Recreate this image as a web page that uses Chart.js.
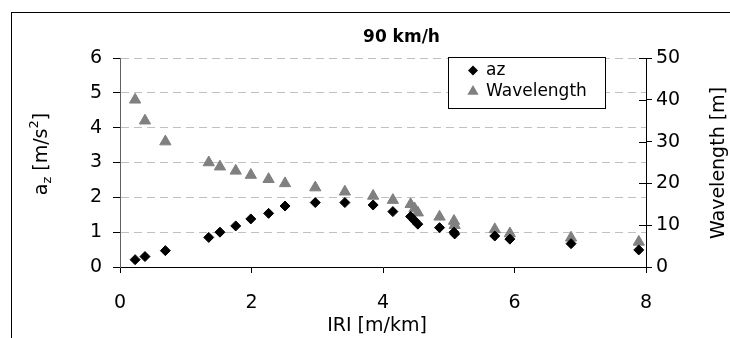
<!DOCTYPE html>
<html>
<head>
<meta charset="utf-8">
<script src="https://cdn.jsdelivr.net/npm/chart.js@4.4.1/dist/chart.umd.min.js"></script>
<style>
  html, body { margin: 0; padding: 0; background: #fff; }
  canvas { display: block; }
</style>
</head>
<body>
<canvas id="chart" width="730" height="338"></canvas>
<script>
// values
const iri = [0.23, 0.38, 0.69, 1.35, 1.52, 1.76, 1.99, 2.26, 2.51, 2.97, 3.42, 3.85,
    4.15, 4.42, 4.48, 4.53, 4.86, 5.08, 5.09, 5.70, 5.93, 6.86, 7.89];
const az = [0.21, 0.30, 0.47, 0.85, 1.00, 1.18, 1.38, 1.54, 1.75, 1.85, 1.85, 1.78,
    1.59, 1.45, 1.33, 1.23, 1.13, 1.00, 0.95, 0.89, 0.80, 0.67, 0.49];
const wavelength = [40, 35, 30, 25, 24, 23, 22, 21, 20, 19, 18, 17,
    16, 15, 14, 13, 12, 11, 10, 9, 8, 7, 6];
const seriesNames = ['az', 'Wavelength'];
const chartTitle = '90 km/h';
const xTitle = 'IRI [m/km]';
const y1Title = 'Wavelength [m]';

const FONT = '"DejaVu Sans", sans-serif';

function points(xs, ys) {
    return xs.map((x, i) => ({x: x, y: ys[i]}));
}

// draws a marker like the ones chart.js uses for rectRot / triangle
function marker(ctx, style, x, y, r) {
    ctx.beginPath();
    if (style === 'rectRot') {
        ctx.moveTo(x, y - r);
        ctx.lineTo(x + r, y);
        ctx.lineTo(x, y + r);
        ctx.lineTo(x - r, y);
    } else {
        ctx.moveTo(x, y - r);
        ctx.lineTo(x + r * Math.sin(Math.PI / 3), y + r / 2);
        ctx.lineTo(x - r * Math.sin(Math.PI / 3), y + r / 2);
    }
    ctx.closePath();
    ctx.fill();
}

// text pieces along one baseline, rotated -90deg, centered on (cx, cy)
function rotatedText(ctx, cx, cy, parts) {
    ctx.save();
    ctx.translate(cx, cy);
    ctx.rotate(-Math.PI / 2);
    ctx.textBaseline = 'alphabetic';
    ctx.textAlign = 'left';
    let total = 0;
    parts.forEach(p => {
        ctx.font = p.size + 'px ' + FONT;
        p.w = ctx.measureText(p.t).width;
        total += p.w;
    });
    let x = -total / 2;
    parts.forEach(p => {
        ctx.font = p.size + 'px ' + FONT;
        ctx.fillText(p.t, x, p.dy || 0);
        x += p.w;
    });
    ctx.restore();
}

const decor = {
    id: 'decor',
    beforeDraw(chart) {
        const ctx = chart.ctx;
        ctx.save();
        ctx.fillStyle = '#fff';
        ctx.fillRect(0, 0, chart.width, chart.height);
        ctx.strokeStyle = '#000';
        ctx.lineWidth = 1;
        ctx.strokeRect(11.5, 12.5, 900, 500);
        ctx.restore();
    },
    afterDraw(chart) {
        const ctx = chart.ctx;
        const area = chart.chartArea;
        const y1 = chart.scales.y1;
        ctx.save();

        // right axis ticks also cross into the plot
        ctx.strokeStyle = '#000';
        ctx.lineWidth = 1;
        y1.ticks.forEach(t => {
            const py = Math.round(y1.getPixelForValue(t.value)) + 0.5;
            ctx.beginPath();
            ctx.moveTo(area.right - 7, py);
            ctx.lineTo(area.right, py);
            ctx.stroke();
        });

        ctx.fillStyle = '#000';
        ctx.textAlign = 'center';
        ctx.textBaseline = 'alphabetic';
        ctx.font = 'bold 17px ' + FONT;
        ctx.fillText(chartTitle, 401.5, 41.5);

        ctx.font = '19px ' + FONT;
        ctx.fillText(xTitle, 377, 331);

        rotatedText(ctx, 47, 154, [
            {t: 'a', size: 19},
            {t: 'z', size: 13, dy: 4},
            {t: ' [m/s', size: 19},
            {t: '2', size: 13, dy: -9},
            {t: ']', size: 19},
        ]);
        rotatedText(ctx, 724, 163, [{t: y1Title, size: 19}]);

        // legend box
        ctx.fillStyle = '#fff';
        ctx.fillRect(448, 57, 157, 51);
        ctx.strokeStyle = '#000';
        ctx.strokeRect(448.5, 57.5, 157, 51);
        const ds = chart.data.datasets;
        const rows = [70.5, 91.5];
        ctx.font = '17px ' + FONT;
        ctx.textAlign = 'left';
        ctx.textBaseline = 'middle';
        ds.forEach((d, i) => {
            ctx.fillStyle = d.backgroundColor;
            marker(ctx, d.pointStyle, 473, rows[i], d.pointRadius);
            ctx.fillStyle = '#000';
            ctx.fillText(d.label, 486, rows[i]);
        });
        ctx.restore();
    },
};

const tickFont = {family: FONT, size: 19};

new Chart(document.getElementById('chart'), {
    type: 'scatter',
    data: {
        datasets: [
            {
                label: seriesNames[0],
                data: points(iri, az),
                yAxisID: 'y',
                pointStyle: 'rectRot',
                pointRadius: 5,
                pointHoverRadius: 5,
                backgroundColor: '#000',
                borderColor: '#000',
                borderWidth: 1,
            },
            {
                label: seriesNames[1],
                data: points(iri, wavelength),
                yAxisID: 'y1',
                pointStyle: 'triangle',
                pointRadius: 6.5,
                pointHoverRadius: 6.5,
                backgroundColor: '#808080',
                borderColor: '#808080',
                borderWidth: 1,
            },
        ],
    },
    options: {
        responsive: false,
        animation: false,
        events: [],
        layout: {padding: {top: 58, left: 0, right: 0, bottom: 0}},
        scales: {
            x: {
                type: 'linear',
                min: 0,
                max: 8,
                ticks: {stepSize: 2, color: '#000', font: tickFont, padding: 19},
                grid: {drawOnChartArea: false, tickLength: 6, tickColor: '#000'},
                border: {color: '#000', width: 1},
                afterFit: s => { s.height = 71; },
            },
            y: {
                position: 'left',
                min: 0,
                max: 6,
                ticks: {stepSize: 1, color: '#000', font: tickFont, padding: 11},
                grid: {
                    color: c => (c.tick && c.tick.value === 0) ? 'rgba(0,0,0,0)' : '#c0c0c0',
                    tickColor: '#000',
                    tickLength: 7,
                    tickBorderDash: [],
                },
                border: {color: '#606060', width: 1, dash: [8, 5]},
                afterFit: s => { s.width = 120; },
            },
            y1: {
                position: 'right',
                min: 0,
                max: 50,
                ticks: {stepSize: 10, color: '#000', font: tickFont, padding: 4},
                grid: {drawOnChartArea: false, tickLength: 6, tickColor: '#000'},
                border: {color: '#000', width: 1},
                afterFit: s => { s.width = 84; },
            },
        },
        plugins: {
            legend: {display: false},
            tooltip: {enabled: false},
        },
    },
    plugins: [decor],
});
</script>
</body>
</html>
